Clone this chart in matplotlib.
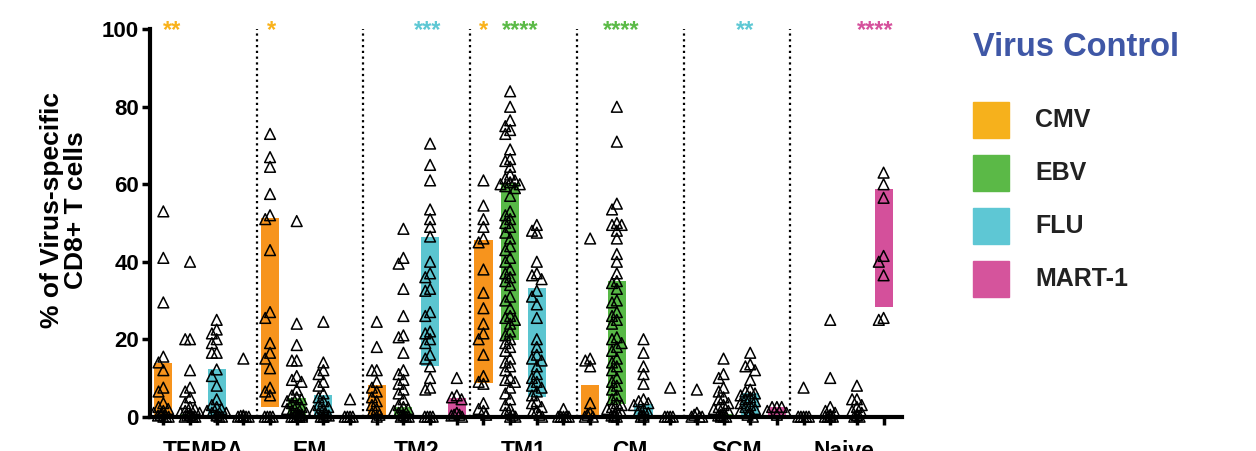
import numpy as np
import matplotlib
matplotlib.use('Agg')
import matplotlib.pyplot as plt
from matplotlib.patches import Rectangle

plt.rcParams['font.family'] = ['Liberation Sans', 'DejaVu Sans']
plt.rcParams['font.weight'] = 'bold'

groups = ['TEMRA', 'EM', 'TM2', 'TM1', 'CM', 'SCM', 'Naive']
viruses = ['CMV', 'EBV', 'FLU', 'MART-1']
bar_colors = ['#F7941D', '#58B947', '#5BC5D0', '#D4509B']
legend_colors = ['#F6B11C', '#5BB947', '#5EC7D4', '#D5549C']
star_colors = ['#F9B21B', '#5BBA47', '#5EC8D4', '#D5519C']

# floating bars (low, high), order: group by group, CMV/EBV/FLU/MART-1
bar_low = [0, 0, 0, 0,   2.6, 0, 0, 0,   0, 0, 13.1, 0,   8.8, 19.8, 5.2, 0,
           0, 3.4, 0, 0,   0, 0, 0, 0,   0, 0, 0, 28.2]
bar_high = [13.8, 0.8, 12.2, 0.3,   51.2, 4.7, 5.5, 0.3,   8.2, 2.6, 46.5, 4.7,
            45.6, 60.4, 33.1, 0.3,   8.2, 34.9, 3.4, 0.3,   0.5, 0.8, 6.0, 2.4,
            0.3, 0.5, 0.5, 58.9]

# individual donors
temra = [
    [53, 41, 29.5, 15.5, 14, 12, 7.5, 6.5, 3.5, 2.5, 2, 1.5, 1, 0.5, 0.3, 0, 0, 0],
    [40, 20, 20, 12, 7.5, 6.5, 5, 3.5, 2.5, 2, 1.5, 1, 1, 0.5, 0.5, 0.3, 0, 0, 0, 0],
    [25, 22.5, 21.5, 20, 19, 16.5, 16.5, 12.2, 10.5, 8, 4.5, 3, 2.5, 2, 1.5, 1, 1, 0.5, 0.3, 0, 0],
    [15, 0.3, 0.2, 0, 0, 0, 0],
]
em = [
    [73, 67, 64.5, 57.5, 52, 51, 43, 27, 25.5, 19, 16.5, 15, 12.5, 7.5, 6.5, 5.5, 0, 0, 0, 0],
    [50.5, 24, 18.5, 14.5, 14.5, 10.5, 9.5, 9, 7, 5.5, 5, 4.5, 4, 3.5, 3, 2.5, 2, 1.5, 1, 1,
     0.5, 0.5, 0, 0, 0, 0, 0, 0],
    [24.5, 14, 12, 11, 9, 8, 6, 5, 4, 3, 2.5, 2, 1.5, 1, 0.5, 0.3, 0, 0, 0],
    [4.5, 0, 0, 0, 0],
]
tm2 = [
    [24.5, 18, 12, 12, 9, 7.5, 6.5, 5, 4, 3, 2, 1, 0.5, 0],
    [48.5, 41, 39.5, 33, 26, 21, 20.5, 16.5, 12, 11, 9.5, 8.5, 7, 6, 4.5, 3, 2.5, 2, 1.5, 1,
     0.5, 0.3, 0, 0, 0],
    [70.5, 65, 61, 53.5, 51, 49, 46.5, 40, 37, 36, 33, 32.5, 27, 26, 22, 21.5, 20, 19, 16, 15,
     13, 10, 7.5, 7, 0, 0, 0, 0],
    [10, 5.5, 5, 4.5, 1, 0.5, 0.5, 0.3, 0],
]
tm1 = [
    [61, 54.5, 51, 49, 46, 45, 38, 32, 28, 24, 21.5, 20, 16, 10.5, 9, 8.5, 3.5, 2, 1.5, 0.5],
    [84, 80, 76.5, 75, 74, 73, 69, 66.5, 66, 64.5, 62.5, 61.5, 61, 60.5, 60, 60, 59.5, 59, 57,
     53, 52, 51, 50, 49, 47.5, 46, 44, 43, 41, 40, 38, 37, 36, 35, 34, 31, 30, 28, 26, 25.5,
     25, 24, 22, 21, 20, 19, 18, 17, 15, 14, 13, 12, 10, 9.5, 9, 7.5, 6, 4.5, 3, 2, 1, 0.5, 0, 0],
    [49.5, 48, 47.5, 40, 37, 36.5, 35.5, 32.5, 31, 29, 25.5, 20, 18, 16, 15, 14.5, 13, 11, 10,
     9, 8, 7.5, 6.5, 5.5, 4, 3.5, 2.5, 1.5, 1, 0.5, 0],
    [2, 0, 0, 0, 0, 0],
]
cm = [
    [46, 15, 14.5, 13, 3.5, 1, 0.5, 0, 0],
    [80, 71, 55, 53.5, 50, 49.5, 49.5, 48, 46, 42, 40, 37, 35, 34.5, 33, 30, 29.5, 27, 26, 25,
     24, 20.5, 20, 19, 18, 17, 15, 14, 13, 12, 10, 9, 8, 7, 5.5, 4.5, 3.5, 3, 2.5, 2, 1.5, 1,
     0.5, 0.3, 0, 0],
    [20, 16.5, 13, 11, 8.5, 4.5, 4, 3.5, 3, 2, 1.5, 1, 0.5, 0, 0],
    [7.5, 0, 0, 0, 0],
]
scm = [
    [7, 1, 0.5, 0, 0, 0],
    [15, 11, 10, 7.5, 6.5, 5, 4.5, 3.5, 3, 2.5, 2, 1.5, 1, 0.5, 0.3, 0, 0, 0],
    [16.5, 13.5, 13, 12, 9.5, 7, 6.5, 6, 5.5, 5, 4.5, 4, 3.5, 3, 2.5, 2, 1.5, 1, 0.5, 0],
    [2.5, 2.5, 2.5, 1.5, 1, 0.5],
]
naive = [
    [7.5, 0, 0, 0, 0, 0],
    [25, 10, 2.5, 1.5, 1, 0.5, 0, 0, 0, 0],
    [8, 4.5, 4.5, 3, 2.5, 1.5, 1, 0.5, 0.3, 0, 0],
    [63, 60, 56.5, 41.5, 40, 36.5, 25.5, 25],
]
points = temra + em + tm2 + tm1 + cm + scm + naive

# significance marks
star_slot = [0, 4, 10, 12, 13, 17, 22, 27]
star_text = ['**', '*', '***', '*', '****', '****', '**', '****']
star_dx = [0.34, 0.04, -0.1, 0, 0.37, 0.15, -0.2, -0.3]  # nudges, slot units


def swarm(vals, slot_px, unit_px):
    # spread overlapping points sideways, a bit like prism does
    offs = [0, -0.18, 0.18, -0.36, 0.36]
    placed = []
    xs = []
    for v in vals:
        cands = offs if v >= 0.8 else [0, -0.1, 0.1, -0.2, 0.2]
        best, best_n = 0, None
        for o in cands:
            n = sum(1 for (po, pv) in placed
                    if abs(po - o) * slot_px < 2.5 and abs(pv - v) * unit_px < 7)
            if n == 0:
                best = o
                break
            if best_n is None or n < best_n:
                best, best_n = o, n
        placed.append((best, v))
        xs.append(best)
    return xs


W, H = 1256, 451
fig = plt.figure(figsize=(W / 100, H / 100), dpi=100)
ax = fig.add_axes([150 / W, 34.3 / H, 752 / W, 387.4 / H])

n = len(points)
xmax = n - 0.5 + 0.19
ax.set_xlim(-0.5, xmax)
ax.set_ylim(0, 100)
slot_px = 752 / (xmax + 0.5)
unit_px = 387.4 / 100

x = np.arange(n)
ax.bar(x, np.array(bar_high) - np.array(bar_low), bottom=bar_low, width=0.68,
       color=[bar_colors[i % 4] for i in range(n)], zorder=1)

for i, vals in enumerate(points):
    vals = sorted(vals, reverse=True)
    offs = swarm(vals, slot_px, unit_px)
    ax.scatter(i + np.array(offs), vals, marker='^', s=60, facecolors='none',
               edgecolors='black', linewidths=1.1, zorder=3, clip_on=False)

# dotted separators between subsets
for g in range(1, len(groups)):
    ax.plot([4 * g - 0.5, 4 * g - 0.5], [0, 100], color='black', lw=1.6,
            ls=(0, (1, 1.6)), zorder=0)

for s, t, d in zip(star_slot, star_text, star_dx):
    ax.text(s + d, 98.0, t, color=star_colors[s % 4], fontsize=17, fontweight='bold',
            ha='center', va='baseline', clip_on=False)

for side in ['top', 'right']:
    ax.spines[side].set_visible(False)
for side in ['left', 'bottom']:
    ax.spines[side].set_linewidth(3)
    ax.spines[side].set_zorder(4)

ax.set_xticks(x)
ax.set_xticklabels([])
ax.set_xticks([4 * g + 1.5 for g in range(len(groups))], minor=True)
ax.set_xticklabels(groups, minor=True)
ax.tick_params(axis='x', which='major', length=6, width=2.5)
ax.tick_params(axis='x', which='minor', length=0, pad=17, labelsize=16.5)
ax.set_yticks([0, 20, 40, 60, 80, 100])
ax.tick_params(axis='y', length=6, width=2.5, labelsize=16, pad=2)

fig.text(64 / W, 1 - 210 / H, '% of Virus-specific\nCD8+ T cells', rotation=90,
         ha='center', va='center', multialignment='center', fontsize=19,
         fontweight='bold', linespacing=1.05)

# legend
fig.text(973 / W, 1 - 47 / H, 'Virus Control', color='#3F57A6', fontsize=23.5,
         fontweight='bold', ha='left', va='center')
for k, name in enumerate(viruses):
    yc = 120 + 53 * k
    fig.add_artist(Rectangle((973 / W, 1 - (yc + 18) / H), 36 / W, 36 / H,
                             transform=fig.transFigure, color=legend_colors[k]))
    fig.text(1035 / W, 1 - yc / H, name, fontsize=18, fontweight='bold',
             color='#222222', ha='left', va='center')

fig.savefig('out.png', dpi=100)
